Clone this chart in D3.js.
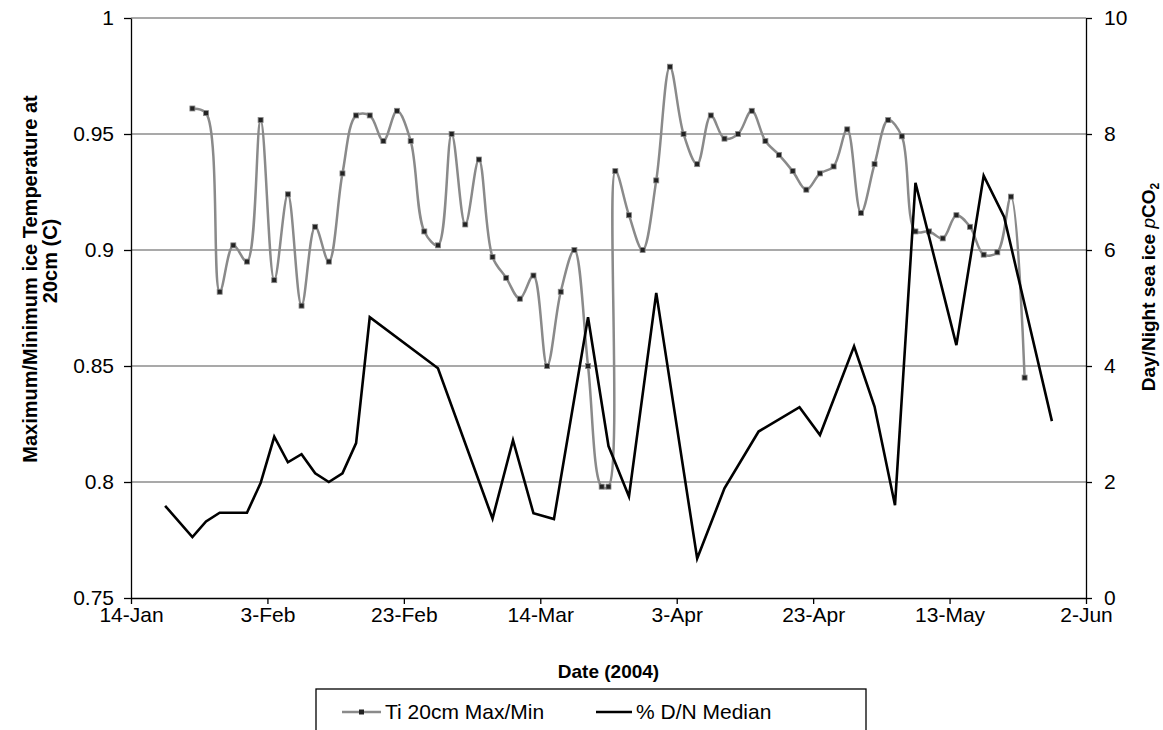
<!DOCTYPE html>
<html lang="en">
<head>
<meta charset="utf-8" />
<title>Ti 20cm and D/N pCO2</title>
<script src="https://cdn.jsdelivr.net/npm/d3@7"></script>
<style>
  body { margin: 0; background: #fff; }
  svg text { font-family: "Liberation Sans", Arial, sans-serif; fill: #000; }
  .tick text { font-size: 21px; }
  .title { font-size: 19px; font-weight: bold; }
  .legend text { font-size: 21px; }
</style>
</head>
<body>
<div id="chart"></div>
<script>
var width = 1163, height = 730;

// ticks
var xTickDates = ["2004-01-14", "2004-02-03", "2004-02-23", "2004-03-14", "2004-04-03", "2004-04-23", "2004-05-13", "2004-06-02"];
var leftTicks = [0.75, 0.8, 0.85, 0.9, 0.95, 1];
var rightTicks = [0, 2, 4, 6, 8, 10];

// Ti 20cm Max/Min (left axis)
var tiDates = ["2004-01-23", "2004-01-25", "2004-01-27", "2004-01-29", "2004-01-31", "2004-02-02", "2004-02-04", "2004-02-06",
  "2004-02-08", "2004-02-10", "2004-02-12", "2004-02-14", "2004-02-16", "2004-02-18", "2004-02-20", "2004-02-22",
  "2004-02-24", "2004-02-26", "2004-02-28", "2004-03-01", "2004-03-03", "2004-03-05", "2004-03-07", "2004-03-09",
  "2004-03-11", "2004-03-13", "2004-03-15", "2004-03-17", "2004-03-19", "2004-03-21", "2004-03-23", "2004-03-24",
  "2004-03-25", "2004-03-27", "2004-03-29", "2004-03-31", "2004-04-02", "2004-04-04", "2004-04-06", "2004-04-08",
  "2004-04-10", "2004-04-12", "2004-04-14", "2004-04-16", "2004-04-18", "2004-04-20", "2004-04-22", "2004-04-24",
  "2004-04-26", "2004-04-28", "2004-04-30", "2004-05-02", "2004-05-04", "2004-05-06", "2004-05-08", "2004-05-10",
  "2004-05-12", "2004-05-14", "2004-05-16", "2004-05-18", "2004-05-20", "2004-05-22", "2004-05-24"];
var tiValues = [0.961, 0.959, 0.882, 0.902, 0.895, 0.956, 0.887, 0.924,
  0.876, 0.910, 0.895, 0.933, 0.958, 0.958, 0.947, 0.960,
  0.947, 0.908, 0.902, 0.950, 0.911, 0.939, 0.897, 0.888,
  0.879, 0.889, 0.850, 0.882, 0.900, 0.850, 0.798, 0.798,
  0.934, 0.915, 0.900, 0.930, 0.979, 0.950, 0.937, 0.958,
  0.948, 0.950, 0.960, 0.947, 0.941, 0.934, 0.926, 0.933,
  0.936, 0.952, 0.916, 0.937, 0.956, 0.949, 0.908, 0.908,
  0.905, 0.915, 0.910, 0.898, 0.899, 0.923, 0.845];

// % D/N Median (right axis)
var dnDates = ["2004-01-19", "2004-01-23", "2004-01-25", "2004-01-27", "2004-01-31", "2004-02-02", "2004-02-04", "2004-02-06",
  "2004-02-08", "2004-02-10", "2004-02-12", "2004-02-14", "2004-02-16", "2004-02-18", "2004-02-28", "2004-03-07",
  "2004-03-10", "2004-03-13", "2004-03-16", "2004-03-21", "2004-03-24", "2004-03-27", "2004-03-31", "2004-04-06",
  "2004-04-10", "2004-04-15", "2004-04-21", "2004-04-24", "2004-04-29", "2004-05-02", "2004-05-05", "2004-05-08",
  "2004-05-14", "2004-05-18", "2004-05-21", "2004-05-28"];
var dnValues = [1.59, 1.05, 1.32, 1.47, 1.47, 1.98, 2.78, 2.34,
  2.48, 2.15, 2.00, 2.15, 2.67, 4.84, 3.96, 1.37,
  2.72, 1.46, 1.36, 4.84, 2.62, 1.75, 5.26, 0.68,
  1.89, 2.87, 3.29, 2.81, 4.34, 3.30, 1.60, 7.16,
  4.36, 7.28, 6.57, 3.05];

var parse = d3.timeParse("%Y-%m-%d");
var mLeft = 131, mRight = 1086, mTop = 18, mBottom = 598;

var x = d3.scaleTime().domain([parse("2004-01-14"), parse("2004-06-02")]).range([mLeft, mRight]);
var yL = d3.scaleLinear().domain([0.75, 1]).range([mBottom, mTop]);
var yR = d3.scaleLinear().domain([0, 10]).range([mBottom, mTop]);

var svg = d3.select("#chart").append("svg")
    .attr("width", width)
    .attr("height", height);

// gridlines
svg.append("g").selectAll("line")
    .data(leftTicks.slice(1))
    .enter().append("line")
    .attr("x1", mLeft).attr("x2", mRight)
    .attr("y1", function(d) { return yL(d); })
    .attr("y2", function(d) { return yL(d); })
    .attr("stroke", "#8c8c8c")
    .attr("stroke-width", 1.5);

// axes
var xAxis = d3.axisBottom(x)
    .tickValues(xTickDates.map(parse))
    .tickFormat(d3.timeFormat("%-d-%b"))
    .tickSizeInner(6).tickSizeOuter(0).tickPadding(2);
var gx = svg.append("g").attr("transform", "translate(0," + mBottom + ")").call(xAxis);

var gl = svg.append("g").attr("transform", "translate(" + mLeft + ",0)")
    .call(d3.axisLeft(yL).tickValues(leftTicks).tickFormat(d3.format("")).tickSizeInner(7).tickSizeOuter(0).tickPadding(10));

var gr = svg.append("g").attr("transform", "translate(" + mRight + ",0)")
    .call(d3.axisRight(yR).tickValues(rightTicks).tickSizeInner(6).tickSizeOuter(0).tickPadding(12));

svg.selectAll(".domain, .tick line").attr("stroke", "#000").attr("stroke-width", 1.3);
gx.selectAll(".tick text").attr("dy", "0.75em");

// series
var tiData = tiDates.map(function(d, i) { return {date: parse(d), v: tiValues[i]}; });
var dnData = dnDates.map(function(d, i) { return {date: parse(d), v: dnValues[i]}; });

svg.append("path")
    .datum(tiData)
    .attr("fill", "none")
    .attr("stroke", "#8a8a8a")
    .attr("stroke-width", 2.5)
    .attr("d", d3.line().curve(d3.curveCatmullRom.alpha(0.5))
      .x(function(d) { return x(d.date); })
      .y(function(d) { return yL(d.v); }));

svg.append("g").selectAll("rect")
    .data(tiData)
    .enter().append("rect")
    .attr("x", function(d) { return x(d.date) - 2.5; })
    .attr("y", function(d) { return yL(d.v) - 2.5; })
    .attr("width", 5).attr("height", 5)
    .attr("fill", "#222")
    .attr("stroke", "#888")
    .attr("stroke-width", 0.8);

svg.append("path")
    .datum(dnData)
    .attr("fill", "none")
    .attr("stroke", "#000")
    .attr("stroke-width", 2.6)
    .attr("stroke-linejoin", "miter")
    .attr("d", d3.line()
      .x(function(d) { return x(d.date); })
      .y(function(d) { return yR(d.v); }));

// axis titles
svg.append("text").attr("class", "title")
    .attr("x", (mLeft + mRight) / 2).attr("y", 678)
    .attr("text-anchor", "middle")
    .text("Date (2004)");

var lt = svg.append("text").attr("class", "title")
    .style("font-size", "20px")
    .attr("transform", "translate(37,279) rotate(-90)")
    .attr("text-anchor", "middle");
lt.append("tspan").attr("x", 0).attr("dy", 0).text("Maximum/Minimum ice Temperature at");
lt.append("tspan").attr("x", 18).attr("dy", 20).text("20cm (C)");

var rt = svg.append("text").attr("class", "title")
    .attr("transform", "translate(1155,287) rotate(-90)")
    .attr("text-anchor", "middle");
rt.append("tspan").text("Day/Night sea ice ");
rt.append("tspan").attr("font-style", "italic").attr("font-weight", "normal").text("p");
rt.append("tspan").text("CO");
rt.append("tspan").attr("font-size", "12px").attr("dy", 4).text("2");

// legend
var lg = svg.append("g").attr("class", "legend");
lg.append("rect")
    .attr("x", 316).attr("y", 689)
    .attr("width", 550).attr("height", 50)
    .attr("fill", "#fff").attr("stroke", "#000").attr("stroke-width", 1.3);
lg.append("line").attr("x1", 342).attr("x2", 381).attr("y1", 712).attr("y2", 712)
    .attr("stroke", "#8a8a8a").attr("stroke-width", 2.5);
lg.append("rect").attr("x", 359).attr("y", 709.5).attr("width", 5).attr("height", 5).attr("fill", "#222");
lg.append("text").attr("x", 385).attr("y", 719).text("Ti 20cm Max/Min");
lg.append("line").attr("x1", 596).attr("x2", 632).attr("y1", 712).attr("y2", 712)
    .attr("stroke", "#000").attr("stroke-width", 2.6);
lg.append("text").attr("x", 636).attr("y", 719).text("% D/N Median");
</script>
</body>
</html>
